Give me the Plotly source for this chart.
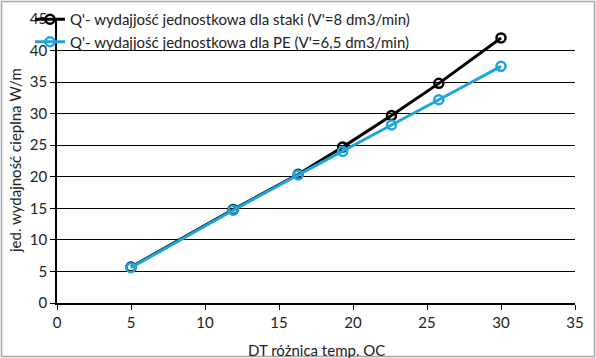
import plotly.graph_objects as go

dt = [5, 11.9, 16.3, 19.3, 22.6, 25.8, 30]
q_stal = [5.7, 14.8, 20.4, 24.7, 29.7, 34.8, 42.0]
q_pe = [5.6, 14.7, 20.3, 24.0, 28.2, 32.2, 37.5]
names = ["Q'- wydajjość jednostkowa dla staki (V'=8 dm3/min)",
         "Q'- wydajjość jednostkowa dla PE (V'=6,5 dm3/min)"]
colors = ["#000000", "#1EA5DC"]
x_title = "DT różnica temp. OC"
y_title = "jed. wydajność cieplna W/m"

W, H = 596, 358
L, R, T, B = 57, 21, 19, 55

fig = go.Figure()
for i, (y, n, c) in enumerate([(q_stal, names[0], colors[0]), (q_pe, names[1], colors[1])]):
    fig.add_trace(go.Scatter(x=dt, y=y, name=n, mode="lines+markers",
                             line=dict(color=c, width=3),
                             marker=dict(symbol="circle-open", size=9, color=c, line=dict(width=2.5))))

pw, ph = W - L - R, H - T - B
fig.add_shape(type="rect", xref="paper", yref="paper",
              x0=-(L - 1.5) / pw, x1=1 + (R - 1.5) / pw,
              y0=-(B - 1.5) / ph, y1=1 + (T - 1.5) / ph,
              line=dict(color="#A6A6A6", width=1.5), layer="below")
fig.add_annotation(text=y_title, textangle=-90, xref="paper", yref="paper",
                   x=-(L - 15) / pw, y=0.5, xanchor="center", yanchor="middle",
                   showarrow=False, font=dict(size=15, color="#222"))
fig.add_annotation(text=x_title, xref="paper", yref="paper",
                   x=0.5, y=-(350 - 303) / ph, xanchor="center", yanchor="middle",
                   showarrow=False, font=dict(size=15, color="#222"))

font = "Lato"
fig.update_layout(
    width=W, height=H, margin=dict(l=L, r=R, t=T, b=B, autoexpand=False),
    paper_bgcolor="white", plot_bgcolor="white",
    font=dict(family=font, size=15, color="#222"),
    showlegend=True,
    legend=dict(xref="container", yref="container", x=30 / W, y=1 - 3 / H,
                xanchor="left", yanchor="top",
                bgcolor="rgba(0,0,0,0)", font=dict(size=15, color="#222"),
                itemwidth=30, tracegroupgap=0),
    xaxis=dict(range=[0, 35], dtick=5, showgrid=False, zeroline=False, automargin=False,
               showline=True, linecolor="black", linewidth=1.5,
               ticks="outside", ticklen=5, tickcolor="black"),
    yaxis=dict(range=[0, 45], dtick=5, showgrid=True, gridcolor="black", gridwidth=1,
               zeroline=False, showline=True, linecolor="black", linewidth=1.5, automargin=False,
               ticks="outside", ticklen=5, tickcolor="black"),
)
fig.write_html("out.html", config={"displayModeBar": False},
               post_script="document.body.style.margin='0';")
